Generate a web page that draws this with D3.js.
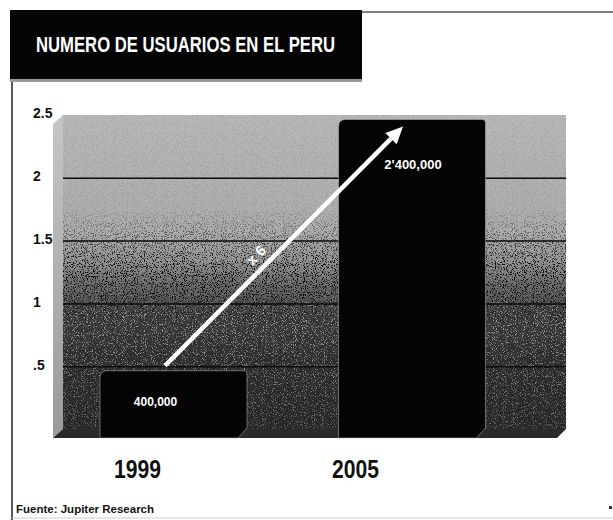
<!DOCTYPE html>
<html>
<head>
<meta charset="utf-8">
<script src="https://cdn.jsdelivr.net/npm/d3@7"></script>
<style>
  html, body { margin: 0; padding: 0; background: #fff; }
  svg { display: block; font-family: "Liberation Sans", Arial, sans-serif; }
</style>
</head>
<body>
<div id="chart"></div>
<script>
// datos (millones de usuarios)
const years = ["1999", "2005"];
const values = [0.4, 2.4];
const valueLabels = ["400,000", "2'400,000"];
const tickValues = [0.5, 1, 1.5, 2, 2.5];
const tickLabels = [".5", "1", "1.5", "2", "2.5"];
const title = "NUMERO DE USUARIOS EN EL PERU";
const source = "Fuente: Jupiter Research";
const growthLabel = "x 6";

const width = 613, height = 520;
const svg = d3.select("#chart").append("svg")
    .attr("width", width)
    .attr("height", height);

const defs = svg.append("defs");

function vGrad(id, stops) {
    const g = defs.append("linearGradient")
        .attr("id", id).attr("x1", 0).attr("y1", 0).attr("x2", 0).attr("y2", 1);
    stops.forEach(([o, c, a]) => g.append("stop").attr("offset", o).attr("stop-color", c)
        .attr("stop-opacity", a === undefined ? 1 : a));
}

// fondo degradado del panel
vGrad("wallGrad", [[0, "#b8b8b8"], [0.38, "#acacac"], [0.47, "#929292"], [0.55, "#666"],
    [0.63, "#3e3e3e"], [0.78, "#2e2e2e"], [1, "#272727"]]);
vGrad("sideGrad", [[0, "#c6c6c6"], [0.5, "#b0b0b0"], [1, "#9a9a9a"]]);
vGrad("darkMask", [[0, "#fff", 0.08], [0.3, "#fff", 0.1], [0.4, "#fff", 0.6], [0.5, "#fff", 1],
    [0.6, "#fff", 0.9], [0.68, "#fff", 0.2], [1, "#fff", 0.08]]);
vGrad("lightMask", [[0, "#fff", 0], [0.52, "#fff", 0], [0.64, "#fff", 0.6], [1, "#fff", 0.35]]);

// textura granulada
function grain(id, seed, matrix) {
    const f = defs.append("filter").attr("id", id)
        .attr("x", 0).attr("y", 0).attr("width", 1).attr("height", 1);
    f.append("feTurbulence")
        .attr("type", "fractalNoise").attr("baseFrequency", 0.9).attr("numOctaves", 2).attr("seed", seed)
        .attr("result", "t");
    f.append("feColorMatrix").attr("in", "t").attr("type", "matrix").attr("values", matrix);
}
grain("grainDark", 3, "0 0 0 0 0  0 0 0 0 0  0 0 0 0 0  7 0 0 0 -3.7");
grain("grainLight", 8, "0 0 0 0 0.8  0 0 0 0 0.8  0 0 0 0 0.8  0 7 0 0 -3.9");

// escalas
const y = d3.scaleLinear().domain([0, 2.5]).range([429, 115]);
const x = d3.scaleBand().domain(years).range([54.25, 531.25]).paddingInner(0.384).paddingOuter(0.192);
const xLabel = d3.scalePoint().domain(years).range([138, 356]);

const wallL = 63, wallR = 566, sideL = 53, floorY = 438, depth = 9;

defs.append("mask").attr("id", "mDark").append("rect")
    .attr("x", wallL).attr("y", y(2.5)).attr("width", wallR - wallL).attr("height", y(0) - y(2.5))
    .attr("fill", "url(#darkMask)");
defs.append("mask").attr("id", "mLight").append("rect")
    .attr("x", wallL).attr("y", y(2.5)).attr("width", wallR - wallL).attr("height", y(0) - y(2.5))
    .attr("fill", "url(#lightMask)");

// marco
svg.append("line").attr("x1", 362).attr("x2", 613).attr("y1", 12).attr("y2", 12)
    .attr("stroke", "#555").attr("stroke-width", 1.5);
svg.append("line").attr("x1", 12).attr("x2", 12).attr("y1", 80).attr("y2", 520)
    .attr("stroke", "#222").attr("stroke-width", 1.5);
svg.append("line").attr("x1", 12).attr("x2", 613).attr("y1", 518).attr("y2", 518)
    .attr("stroke", "#ccc").attr("stroke-width", 1);

// titulo
svg.append("rect").attr("x", 10).attr("y", 79).attr("width", 352).attr("height", 3).attr("fill", "#9a9a9a");
svg.append("rect").attr("x", 10).attr("y", 10).attr("width", 352).attr("height", 69).attr("fill", "#050505");
svg.append("text")
    .attr("x", 36).attr("y", 46)
    .attr("dominant-baseline", "middle")
    .attr("fill", "#fff")
    .attr("font-size", 22).attr("font-weight", "bold")
    .attr("textLength", 299).attr("lengthAdjust", "spacingAndGlyphs")
    .text(title);

// pared trasera
const wall = svg.append("g");
wall.append("rect").attr("x", wallL).attr("y", y(2.5)).attr("width", wallR - wallL).attr("height", y(0) - y(2.5))
    .attr("fill", "url(#wallGrad)");
wall.append("rect").attr("x", wallL).attr("y", y(2.5)).attr("width", wallR - wallL).attr("height", y(0) - y(2.5))
    .attr("filter", "url(#grainDark)").attr("mask", "url(#mDark)");
wall.append("rect").attr("x", wallL).attr("y", y(2.5)).attr("width", wallR - wallL).attr("height", y(0) - y(2.5))
    .attr("filter", "url(#grainLight)").attr("mask", "url(#mLight)");

// pared lateral
svg.append("path")
    .attr("d", `M${sideL},${y(2.5) + depth} L${wallL},${y(2.5)} L${wallL},${y(0)} L${sideL},${floorY} Z`)
    .attr("fill", "url(#sideGrad)");

// piso
svg.append("path")
    .attr("d", `M${sideL},${floorY} L${wallL},${y(0)} L${wallR},${y(0)} L${wallR - depth},${floorY} Z`)
    .attr("fill", "#2a2a2a");

// lineas de division
svg.append("g")
    .attr("transform", `translate(${wallL},0)`)
    .call(d3.axisLeft(y).tickValues(tickValues.slice(0, 4)).tickSize(-(wallR - wallL)).tickFormat(""))
    .call(g => g.select(".domain").remove())
    .call(g => g.selectAll("line").attr("stroke", "#0a0a0a").attr("stroke-width", 1.5));

// etiquetas del eje
svg.append("g")
    .call(d3.axisLeft(y).tickValues(tickValues).tickSize(0).tickFormat((d, i) => tickLabels[i]))
    .call(g => g.select(".domain").remove())
    .call(g => g.selectAll("text")
        .attr("x", 33).attr("dy", "0.2em")
        .attr("text-anchor", "start")
        .attr("fill", "#111")
        .attr("font-size", 14).attr("font-weight", "bold")
        .attr("font-family", "Liberation Sans, Arial, sans-serif"));

// barras
const lift = 8, ch = 7;
const barPath = (d, i) => {
    const x0 = x(years[i]), x1 = x0 + x.bandwidth();
    const top = y(d) - lift, bot = floorY;
    return `M${x0},${bot} L${x0},${top + ch} Q${x0},${top} ${x0 + ch},${top} L${x1 - 3},${top} Q${x1},${top} ${x1},${top + 3} L${x1},${bot - 10} L${x1 - 9},${bot} Z`;
};
svg.append("g").selectAll("path")
    .data(values)
    .join("path")
    .attr("d", barPath)
    .attr("fill", "#040404")
    .attr("stroke", "#bdbdbd")
    .attr("stroke-opacity", 0.5)
    .attr("stroke-width", 1);

// etiquetas de valor
svg.append("text")
    .attr("x", x(years[0]) + x.bandwidth() / 2 - 18).attr("y", 403)
    .attr("text-anchor", "middle").attr("dominant-baseline", "middle")
    .attr("fill", "#fff").attr("font-size", 12).attr("font-weight", "bold")
    .text(valueLabels[0]);
svg.append("text")
    .attr("x", x(years[1]) + x.bandwidth() / 2 + 1).attr("y", y(values[1]) + 38)
    .attr("text-anchor", "middle").attr("dominant-baseline", "middle")
    .attr("fill", "#fff").attr("font-size", 13).attr("font-weight", "bold")
    .text(valueLabels[1]);

// flecha de crecimiento
const ax0 = 165, ay0 = y(values[0]) - 13, ax1 = 403, ay1 = y(values[1]) - 1;
const ang = Math.atan2(ay1 - ay0, ax1 - ax0);
const head = 17, hw = 8;
const bx = ax1 - head * Math.cos(ang), by = ay1 - head * Math.sin(ang);
svg.append("line")
    .attr("x1", ax0).attr("y1", ay0).attr("x2", bx).attr("y2", by)
    .attr("stroke", "#fff").attr("stroke-width", 4.5);
svg.append("path")
    .attr("d", `M${ax1},${ay1} L${bx + hw * Math.sin(ang)},${by - hw * Math.cos(ang)} L${bx - hw * Math.sin(ang)},${by + hw * Math.cos(ang)} Z`)
    .attr("fill", "#fff");
svg.append("text")
    .attr("transform", `translate(257,256) rotate(${ang * 180 / Math.PI})`)
    .attr("text-anchor", "middle").attr("dominant-baseline", "middle")
    .attr("fill", "#fff").attr("font-size", 15).attr("font-weight", "bold")
    .text(growthLabel);

// años
svg.append("g").selectAll("text")
    .data(years)
    .join("text")
    .attr("x", d => xLabel(d) - 24).attr("y", 471)
    .attr("dominant-baseline", "middle")
    .attr("fill", "#111").attr("font-size", 25).attr("font-weight", "bold")
    .attr("textLength", 47).attr("lengthAdjust", "spacingAndGlyphs")
    .text(d => d);

// fuente
svg.append("text")
    .attr("x", 16).attr("y", 510)
    .attr("dominant-baseline", "middle")
    .attr("fill", "#111").attr("font-size", 11.5).attr("font-weight", "bold")
    .text(source);

svg.append("rect").attr("x", 609).attr("y", 506).attr("width", 3).attr("height", 3).attr("fill", "#333");
</script>
</body>
</html>
